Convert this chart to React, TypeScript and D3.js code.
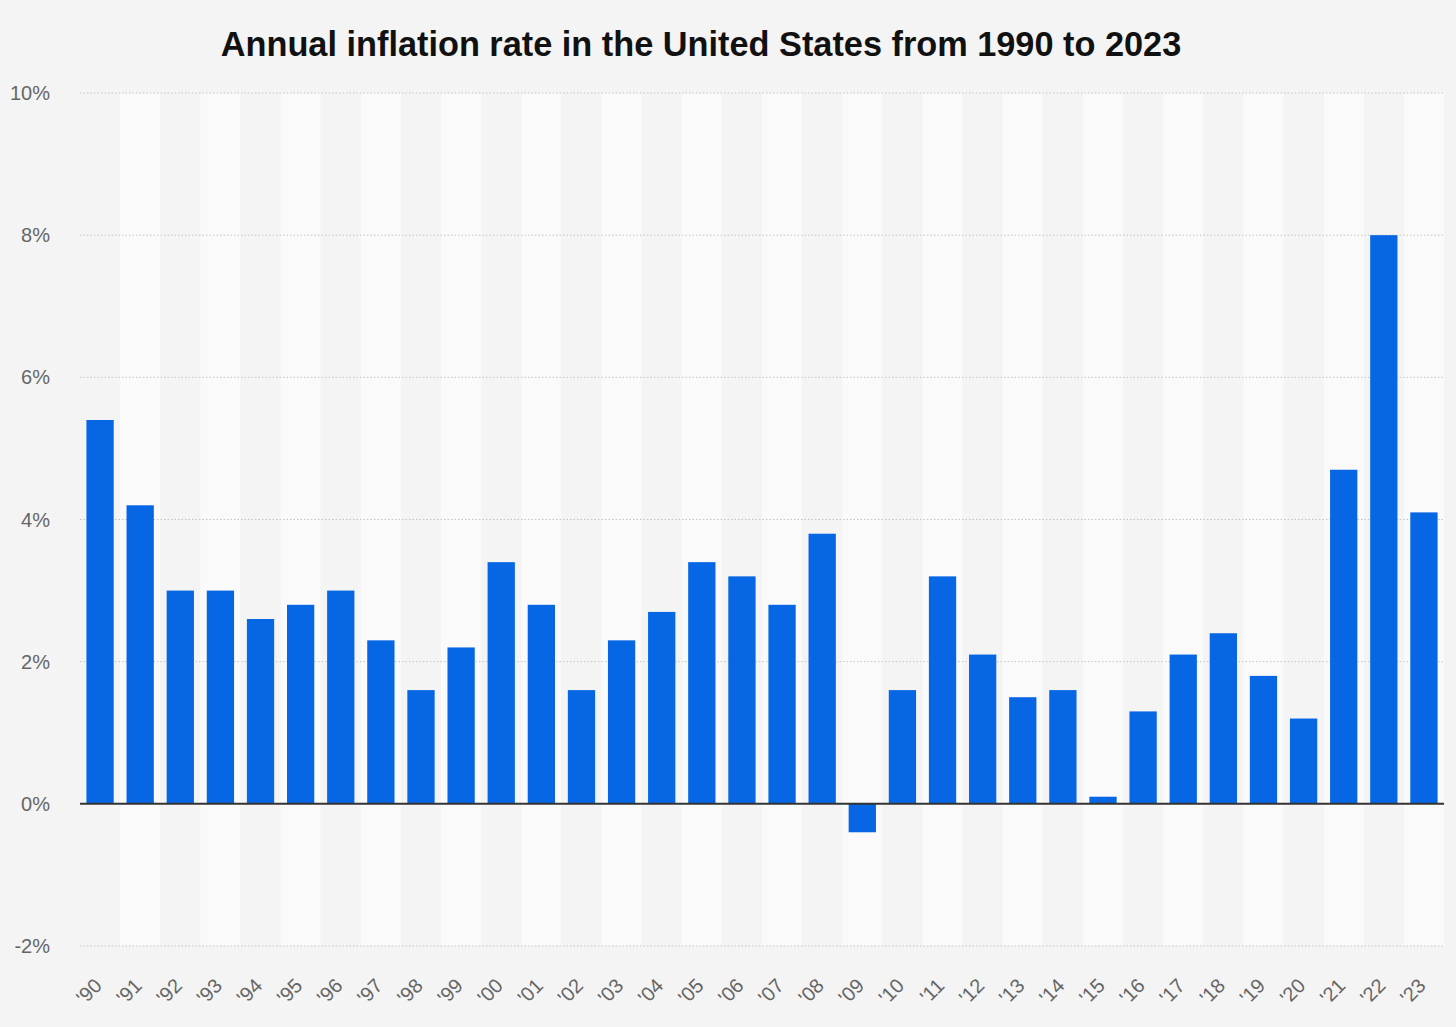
import * as d3 from "d3";

// Annual inflation rate in the US, 1990–2023
const YEARS = [
  "'90", "'91", "'92", "'93", "'94", "'95", "'96", "'97", "'98", "'99",
  "'00", "'01", "'02", "'03", "'04", "'05", "'06", "'07", "'08", "'09",
  "'10", "'11", "'12", "'13", "'14", "'15", "'16", "'17", "'18", "'19",
  "'20", "'21", "'22", "'23",
];
const RATES = [
  5.4, 4.2, 3.0, 3.0, 2.6, 2.8, 3.0, 2.3, 1.6, 2.2,
  3.4, 2.8, 1.6, 2.3, 2.7, 3.4, 3.2, 2.8, 3.8, -0.4,
  1.6, 3.2, 2.1, 1.5, 1.6, 0.1, 1.3, 2.1, 2.4, 1.8,
  1.2, 4.7, 8.0, 4.1,
];
const Y_TICKS = [-2, 0, 2, 4, 6, 8, 10];

const W = 1456;
const H = 1027;
const PLOT = { left: 80, right: 1444, top: 93, bottom: 946 };
const BAR = "#0766e3";
const BG = "#f4f4f4";
const BAND_LIGHT = "#fafafa";
const TICK_FILL = "#666";
const FONT = "'Liberation Sans', Arial, sans-serif";

export default function App() {
  const x = d3.scaleBand().domain(YEARS).range([PLOT.left, PLOT.right]).padding(0);
  const y = d3.scaleLinear().domain([-2, 10]).range([PLOT.bottom, PLOT.top]);
  const bw = x.bandwidth();
  const barW = bw * 0.68;

  return (
    <svg
      width={W}
      height={H}
      style={{ position: "absolute", left: 0, top: 0, background: BG, display: "block" }}
    >
      <rect x={0} y={0} width={W} height={H} fill={BG} />

      {/* alternating column bands */}
      {YEARS.map((yr, i) => (
        <rect
          key={`b${yr}`}
          x={x(yr)}
          y={PLOT.top}
          width={bw}
          height={PLOT.bottom - PLOT.top}
          fill={i % 2 === 1 ? BAND_LIGHT : BG}
        />
      ))}

      {/* gridlines */}
      {Y_TICKS.filter((t) => t !== 0).map((t) => (
        <line
          key={`g${t}`}
          x1={PLOT.left}
          x2={PLOT.right}
          y1={y(t)}
          y2={y(t)}
          stroke="#c4c4c4"
          strokeWidth={1}
          strokeDasharray="1.5 2"
        />
      ))}

      {/* y labels */}
      {Y_TICKS.map((t) => (
        <text
          key={`l${t}`}
          x={50}
          y={y(t)}
          dy="0.35em"
          textAnchor="end"
          fontSize={20}
          fontFamily={FONT}
          fill={TICK_FILL}
        >
          {`${t}%`}
        </text>
      ))}

      {/* bars */}
      {YEARS.map((yr, i) => {
        const v = RATES[i];
        const x0 = (x(yr) ?? 0) + (bw - barW) / 2;
        const yTop = y(Math.max(v, 0));
        const yBot = y(Math.min(v, 0));
        return (
          <rect key={`r${yr}`} x={x0} y={yTop} width={barW} height={yBot - yTop} fill={BAR} />
        );
      })}

      {/* zero line */}
      <line x1={PLOT.left} x2={PLOT.right} y1={y(0)} y2={y(0)} stroke="#333" strokeWidth={2} />

      {/* x labels */}
      {YEARS.map((yr) => {
        const cx = (x(yr) ?? 0) + bw / 2 + 3;
        const cy = 987;
        return (
          <text
            key={`x${yr}`}
            transform={`translate(${cx},${cy}) rotate(-45)`}
            textAnchor="end"
            fontSize={20}
            fontFamily={FONT}
            fill={TICK_FILL}
          >
            {yr}
          </text>
        );
      })}

      {/* title */}
      <text
        x={701}
        y={56}
        textAnchor="middle"
        fontSize={34.3}
        fontWeight={700}
        fontFamily={FONT}
        fill="#111"
      >
        Annual inflation rate in the United States from 1990 to 2023
      </text>
    </svg>
  );
}
